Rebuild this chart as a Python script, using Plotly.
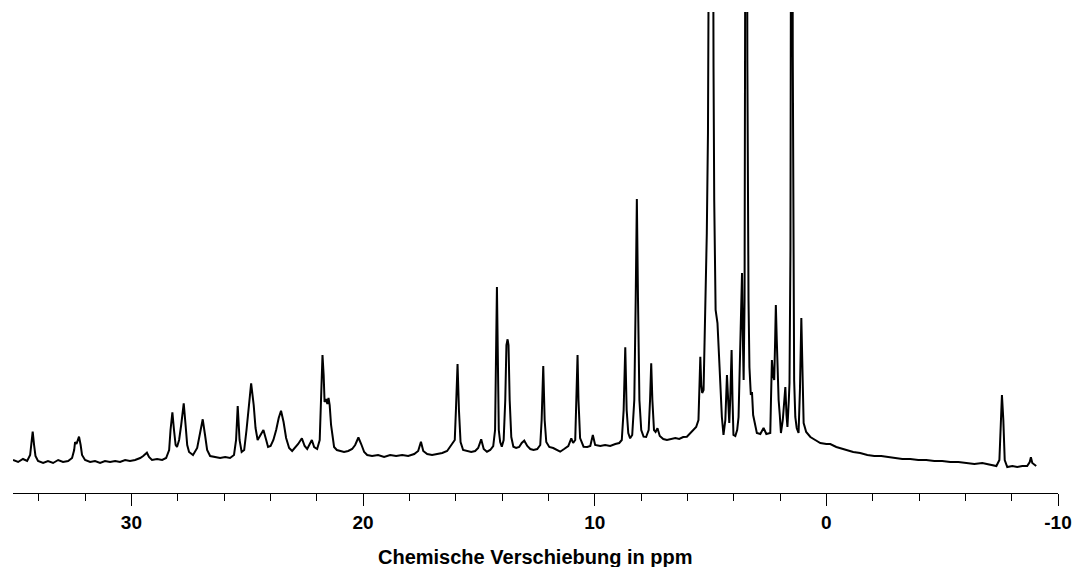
import plotly.graph_objects as go

# Chemical shift (ppm) and intensity (arbitrary units)
ppm = [
    35.11, 34.89, 34.68, 34.50, 34.37, 34.31, 34.26, 34.20, 34.14, 34.03, 33.81, 33.60, 33.38, 33.16, 32.95,
    32.73, 32.56, 32.47, 32.43, 32.37, 32.26, 32.19, 32.13, 32.00, 31.78, 31.57, 31.35, 31.14, 30.92, 30.70,
    30.49, 30.27, 30.06, 29.84, 29.62, 29.49, 29.33, 29.24, 29.11, 28.89, 28.67, 28.50, 28.37, 28.31, 28.23,
    28.16, 28.09, 28.03, 27.94, 27.85, 27.74, 27.66, 27.59, 27.51, 27.34, 27.16, 27.05, 26.92, 26.82, 26.73,
    26.60, 26.39, 26.17, 25.95, 25.74, 25.57, 25.48, 25.41, 25.33, 25.24, 25.13, 25.03, 24.94, 24.83, 24.72,
    24.64, 24.55, 24.44, 24.30, 24.18, 24.10, 23.99, 23.87, 23.75, 23.64, 23.54, 23.43, 23.32, 23.19, 23.06,
    22.93, 22.80, 22.64, 22.52, 22.41, 22.33, 22.21, 22.11, 21.98, 21.87, 21.83, 21.79, 21.75, 21.70, 21.66,
    21.59, 21.54, 21.49, 21.44, 21.38, 21.31, 21.25, 21.13, 20.99, 20.82, 20.64, 20.47, 20.34, 20.20, 20.08,
    19.95, 19.82, 19.61, 19.35, 19.09, 18.83, 18.57, 18.31, 18.05, 17.79, 17.62, 17.50, 17.40, 17.23, 17.02,
    16.80, 16.58, 16.37, 16.17, 16.04, 15.99, 15.92, 15.86, 15.79, 15.68, 15.50, 15.33, 15.16, 15.03, 14.90,
    14.79, 14.65, 14.51, 14.38, 14.30, 14.25, 14.22, 14.19, 14.14, 14.08, 14.01, 13.93, 13.86, 13.81, 13.76,
    13.72, 13.67, 13.60, 13.51, 13.39, 13.26, 13.15, 13.04, 12.91, 12.78, 12.64, 12.48, 12.35, 12.29, 12.22,
    12.16, 12.09, 11.96, 11.79, 11.62, 11.49, 11.32, 11.14, 11.01, 10.93, 10.84, 10.79, 10.74, 10.70, 10.63,
    10.48, 10.32, 10.19, 10.08, 9.98, 9.76, 9.55, 9.33, 9.11, 8.94, 8.83, 8.75, 8.68, 8.62, 8.55,
    8.47, 8.38, 8.29, 8.23, 8.18, 8.13, 8.07, 7.99, 7.89, 7.78, 7.67, 7.61, 7.56, 7.51, 7.44,
    7.37, 7.29, 7.19, 7.04, 6.88, 6.70, 6.52, 6.35, 6.18, 6.02, 5.88, 5.73, 5.62, 5.52, 5.49,
    5.44, 5.40, 5.36, 5.30, 5.23, 5.16, 5.11, 5.07, 4.98, 4.90, 4.87, 4.84, 4.78, 4.70, 4.61,
    4.51, 4.44, 4.36, 4.29, 4.24, 4.19, 4.15, 4.09, 4.05, 4.01, 3.93, 3.85, 3.79, 3.72, 3.64,
    3.61, 3.57, 3.53, 3.50, 3.48, 3.43, 3.41, 3.36, 3.32, 3.26, 3.21, 3.16, 3.00, 2.85, 2.71,
    2.59, 2.42, 2.39, 2.35, 2.30, 2.25, 2.21, 2.18, 2.14, 2.11, 2.06, 2.01, 1.96, 1.88, 1.77,
    1.72, 1.68, 1.62, 1.59, 1.55, 1.52, 1.49, 1.45, 1.42, 1.39, 1.34, 1.28, 1.20, 1.14, 1.08,
    1.03, 0.98, 0.87, 0.69, 0.48, 0.26, 0.00, -0.17, -0.43, -0.69, -0.95, -1.16, -1.46, -1.77, -2.07,
    -2.37, -2.67, -2.98, -3.28, -3.62, -3.97, -4.31, -4.66, -5.00, -5.35, -5.70, -6.04, -6.39, -6.73, -7.08,
    -7.34, -7.47, -7.53, -7.58, -7.64, -7.70, -7.81, -8.03, -8.24, -8.46, -8.67, -8.78, -8.83, -8.89, -9.06,
]
intensity = [
    33, 31, 34, 32, 38, 48, 61.3, 48, 37, 32, 30, 32, 30, 33, 31,
    32, 35, 43, 51, 49, 56.3, 48, 38, 33, 31, 32, 30, 32, 31, 32,
    31, 33, 32, 33, 35, 37, 40.3, 36, 33, 34, 33, 35, 43, 63, 80.7,
    63, 48, 46, 53, 68, 89.7, 68, 48, 41, 38, 45, 58, 73.7, 58, 43,
    37, 36, 35, 36, 35, 38, 53, 87, 53, 41, 43, 63, 88, 109.7, 88,
    65, 53, 57, 63, 53, 46, 47, 53, 63, 75, 82.3, 71, 55, 45, 42,
    45, 49, 54.7, 47, 44, 48, 53, 46, 44, 53, 88, 123, 138, 118, 91,
    94, 89, 95, 88, 68, 53, 46, 43, 42, 41, 42, 44, 48, 55.5, 49,
    41, 38, 37, 38, 36, 38, 37, 38, 37, 39, 42, 51.3, 42, 39, 38,
    39, 40, 42, 49, 53, 83, 129, 83, 51, 43, 42, 41, 42, 45, 53.7,
    44, 41.3, 43, 47, 63, 153, 206, 153, 63, 51, 46.3, 53, 93, 148, 153.7,
    148, 93, 56, 46.3, 45, 46, 50, 52.3, 47, 44, 43, 44, 48, 73, 127,
    73, 51, 46, 45, 43, 41.3, 44, 47, 54.7, 50, 53, 93, 138, 93, 55,
    46.3, 46, 47, 58, 48, 47, 48, 47, 49, 50, 53, 83, 145.7, 83, 60,
    54.7, 58, 93, 193, 294, 193, 93, 63, 56.3, 56, 63, 93, 129.7, 93, 63,
    61, 64.7, 57, 54, 53, 54, 55, 54, 56, 56.3, 60, 63, 66, 73, 93,
    136.3, 108, 100, 103, 183, 260, 360, 693, 1093, 693, 426, 293, 183, 170, 126,
    76, 58, 73, 118, 83, 70, 93, 143, 93, 58, 57, 63, 76, 133, 220,
    163, 113, 193, 433, 793, 793, 433, 193, 126, 98, 101, 78, 60, 59, 65,
    59, 60, 93, 133, 118, 113, 153, 188, 153, 120, 93, 78, 60, 73, 106,
    78, 66, 93, 110, 243, 443, 1093, 443, 243, 113, 76, 65, 60, 103, 175,
    103, 70, 61, 56, 53, 50, 49, 49, 46, 44, 42, 41, 40, 38, 37,
    37, 36, 35, 34, 34, 33, 33, 32, 32, 31, 31, 30, 29, 30, 28,
    27, 33, 73, 98, 73, 33, 26, 27, 26, 27, 27, 31, 35.7, 30, 27,
]

tick_vals = [30, 20, 10, 0, -10]
tick_text = ["30", "20", "10", "0", "-10"]
x_title = "Chemische Verschiebung in ppm"

fig = go.Figure()
fig.add_trace(go.Scatter(
    x=ppm, y=intensity, mode="lines",
    line=dict(color="black", width=2),
    showlegend=False, hoverinfo="skip",
))

font_family = "Arial, 'Liberation Sans', Helvetica, sans-serif"

fig.update_layout(
    width=1072, height=567,
    margin=dict(l=13, r=14, t=12, b=74, autoexpand=False),
    paper_bgcolor="white", plot_bgcolor="white",
    font=dict(family=font_family, color="black"),
    xaxis=dict(
        range=[35.11, -10], automargin=False,
        showgrid=False, zeroline=False,
        showline=True, linecolor="black", linewidth=1,
        ticks="outside", ticklen=12, tickwidth=1, tickcolor="black",
        tickvals=tick_vals, ticktext=tick_text,
        tickfont=dict(size=19, family=font_family, color="black", weight="bold"),
        minor=dict(dtick=2, tick0=0, ticks="outside", ticklen=7, tickwidth=1, tickcolor="black", showgrid=False),
    ),
    yaxis=dict(range=[0, 481], visible=False, showgrid=False, zeroline=False),
    annotations=[dict(
        text=x_title, xref="paper", yref="paper", x=0.5, y=-0.133,
        xanchor="center", yanchor="middle", showarrow=False,
        font=dict(size=20, family=font_family, color="black", weight="bold"),
    )],
)

# remove the default 8px page margin so the full-size figure sits at the window origin
fig.write_html(
    "out.html",
    config={"displayModeBar": False, "staticPlot": True},
    post_script="document.body.style.margin='0px';document.documentElement.style.overflow='hidden';",
)
